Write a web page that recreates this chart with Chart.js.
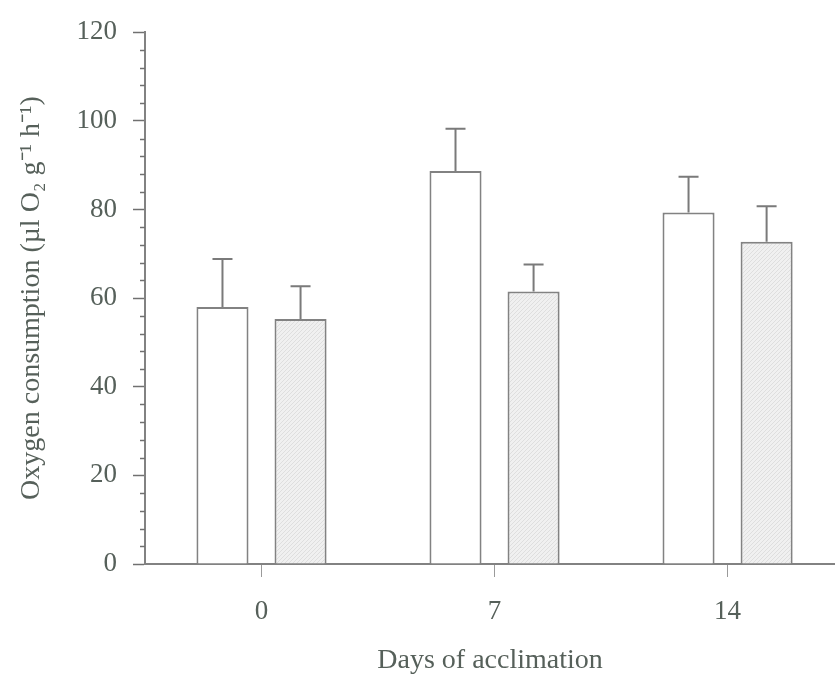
<!DOCTYPE html>
<html>
<head>
<meta charset="utf-8">
<script src="https://cdn.jsdelivr.net/npm/chart.js@4/dist/chart.umd.min.js"></script>
<style>
  html, body { margin: 0; padding: 0; background: #ffffff; }
  #wrap { width: 835px; height: 677px; position: relative; }
</style>
</head>
<body>
<div id="wrap"><canvas id="c" width="835" height="677"></canvas></div>
<script>
// ---- data ----
const days = ['0', '7', '14'];
const controlMeans = [58.0, 88.7, 79.3];
const controlErrors = [10.8, 9.5, 8.1];
const treatedMeans = [55.3, 61.5, 72.7];
const treatedErrors = [7.4, 6.1, 8.0];
const yTickValues = [0, 20, 40, 60, 80, 100, 120];

// ---- styles ----
const TEXT = '#56605a';
const LINE = '#828282';
const FONT = 'Liberation Serif, "Times New Roman", serif';

function makePattern() {
  const p = document.createElement('canvas');
  p.width = 4; p.height = 4;
  const g = p.getContext('2d');
  g.fillStyle = '#f0f0f0';
  g.fillRect(0, 0, 4, 4);
  g.fillStyle = '#dedede';
  g.fillRect(0, 3, 1, 1);
  g.fillRect(1, 2, 1, 1);
  g.fillRect(2, 1, 1, 1);
  g.fillRect(3, 0, 1, 1);
  return g.createPattern(p, 'repeat');
}

const errorSets = [controlErrors, treatedErrors];

const errorBarPlugin = {
  id: 'errorBars',
  afterDatasetsDraw(chart) {
    const ctx = chart.ctx;
    const yScale = chart.scales.y;
    ctx.save();
    ctx.strokeStyle = '#7a7a7a';
    ctx.lineWidth = 2;
    chart.data.datasets.forEach((ds, i) => {
      const meta = chart.getDatasetMeta(i);
      meta.data.forEach((bar, j) => {
        const v = ds.data[j].y;
        const yTop = yScale.getPixelForValue(v + errorSets[i][j]);
        ctx.beginPath();
        ctx.moveTo(bar.x, bar.y);
        ctx.lineTo(bar.x, yTop);
        ctx.moveTo(bar.x - 10, yTop);
        ctx.lineTo(bar.x + 10, yTop);
        ctx.stroke();
      });
    });
    ctx.restore();
  }
};

const minorTickPlugin = {
  id: 'minorTicks',
  afterDraw(chart) {
    const ctx = chart.ctx;
    const y = chart.scales.y;
    const x0 = chart.chartArea.left;
    ctx.save();
    ctx.strokeStyle = '#707070';
    ctx.lineWidth = 1.5;
    for (let v = y.min; v <= y.max; v += 4) {
      if (v % 20 === 0) continue;
      const py = Math.round(y.getPixelForValue(v)) + 0.5;
      ctx.beginPath();
      ctx.moveTo(x0 - 5, py);
      ctx.lineTo(x0, py);
      ctx.stroke();
    }
    ctx.restore();
  }
};

const ctx = document.getElementById('c').getContext('2d');
new Chart(ctx, {
  type: 'bar',
  data: {
    datasets: [
      {
        label: 'Control',
        data: controlMeans.map((v, i) => ({ x: i, y: v })),
        backgroundColor: '#ffffff',
        borderColor: LINE,
        borderWidth: 2
      },
      {
        label: 'Treated',
        data: treatedMeans.map((v, i) => ({ x: i, y: v })),
        backgroundColor: makePattern(),
        borderColor: LINE,
        borderWidth: 2
      }
    ]
  },
  options: {
    responsive: false,
    animation: false,
    layout: { padding: { top: 25, right: 0, left: 0, bottom: 0 } },
    categoryPercentage: 0.67,
    barPercentage: 0.667,
    plugins: {
      legend: { display: false },
      tooltip: { enabled: false }
    },
    scales: {
      x: {
        type: 'linear',
        offset: false,
        bounds: 'data',
        min: -0.5,
        max: 2.461,
        afterBuildTicks(scale) {
          scale.ticks = days.map((d, i) => ({ value: i }));
        },
        afterFit(scale) { scale.height = 113; },
        border: { display: true, color: LINE, width: 2 },
        grid: {
          offset: false,
          drawOnChartArea: false,
          drawTicks: true,
          tickLength: 13,
          tickColor: '#9a9a9a',
          tickWidth: 1
        },
        ticks: {
          color: TEXT,
          padding: 19,
          font: { family: FONT, size: 27 },
          callback: (value) => days[value]
        },
        title: {
          display: true,
          text: 'Days of acclimation',
          color: TEXT,
          font: { family: FONT, size: 28 },
          padding: { top: 0, bottom: 0 }
        }
      },
      y: {
        type: 'linear',
        min: 0,
        max: 120,
        afterBuildTicks(scale) {
          scale.ticks = yTickValues.map(v => ({ value: v }));
        },
        afterFit(scale) { scale.width = 145; },
        border: { display: true, color: LINE, width: 2 },
        grid: {
          drawOnChartArea: false,
          drawTicks: true,
          tickLength: 12,
          tickColor: '#707070',
          tickWidth: 1.5
        },
        ticks: {
          color: TEXT,
          padding: 16,
          font: { family: FONT, size: 27 }
        },
        title: {
          display: true,
          text: 'Oxygen consumption (µl O₂ g⁻¹ h⁻¹)',
          color: TEXT,
          font: { family: FONT, size: 28 },
          padding: { top: 15, bottom: 0 }
        }
      }
    }
  },
  plugins: [errorBarPlugin, minorTickPlugin]
});
</script>
</body>
</html>
